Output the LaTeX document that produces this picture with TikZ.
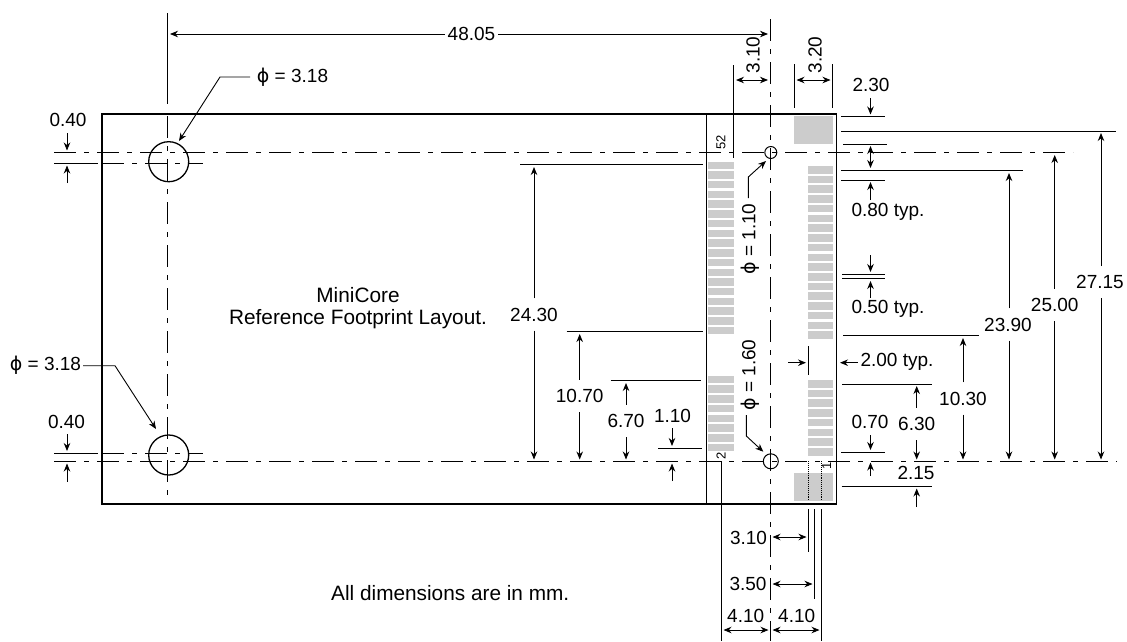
\documentclass[tikz,border=0pt]{standalone}
\usepackage{fontspec}
\setmainfont{Liberation Sans}
\newfontfamily\phifont{DejaVu Sans}
\usetikzlibrary{arrows.meta}
\definecolor{padgray}{HTML}{CCCCCC}
\newcommand{\dimfont}{\fontsize{19}{22}\selectfont}
\newcommand{\titlefont}{\fontsize{20.8}{22}\selectfont}
\newcommand{\pinfont}{\fontsize{13}{15}\selectfont}
\newcommand{\holesym}{{\phifont\symbol{"03D5}}}

\begin{document}
\begin{tikzpicture}[x=1pt,y=-1pt,
	label/.style={font=\dimfont,inner sep=0pt,minimum height=32pt,minimum width=53pt},
	note/.style={font=\dimfont,inner sep=0pt,align=center},
	pin/.style={font=\pinfont,inner sep=0pt},
	pad/.style={fill=padgray},
	ext/.style={line width=0.9pt},
	arr/.style={line width=0.9pt,-{Stealth[length=8pt,width=6.5pt]}},
	dblarr/.style={line width=0.9pt,{Stealth[length=8pt,width=6.5pt]}-{Stealth[length=8pt,width=6.5pt]}},
	centre/.style={line width=0.9pt,dash pattern=on 22pt off 8pt on 5pt off 8pt},
	outline/.style={draw,line width=1.3pt}]
	\useasboundingbox (0,0) rectangle (1127,641);
	\fill[white] (0,0) rectangle (1127,641);

	\foreach \i in {0,...,17} {
		\fill[pad] (708,{161.5+\i*9.73}) rectangle +(25.5,7.5);
		\fill[pad] (808.3,{166+\i*9.73}) rectangle +(25,7.5);
	}
	\foreach \i in {0,...,7} {
		\fill[pad] (708,{375.7+\i*9.73}) rectangle +(25.5,7.5);
		\fill[pad] (808.3,{380+\i*9.73}) rectangle +(25,7.5);
	}
	\fill[pad] (794,116.3) rectangle (833,144);
	\fill[pad] (794,472.7) rectangle (833,500.7);

	\draw[outline] (102,114) rectangle (836.7,504);
	\draw[outline] (706.5,114) -- (706.5,504);
	\draw[outline] (168.7,161.7) circle (20);
	\draw[outline] (168.7,455) circle (20);
	\draw[line width=1pt] (770.8,152.5) circle (6);
	\draw[line width=1pt] (770.8,461.3) circle (7.5);

	\draw[centre] (54,152.5) -- (1073,152.5);
	\draw[centre] (54,461.3) -- (1117,461.3);
	\draw[centre] (102,163) -- (203,163);
	\draw[centre] (102,453) -- (203,453);
	\draw[centre] (167.7,116) -- (167.7,498);
	\draw[centre] (770.3,19) -- (770.3,641);
	\draw[ext] (54,163) -- (98,163);
	\draw[ext] (54,453) -- (98,453);
	\draw[ext] (167.7,13) -- (167.7,104);

	\draw[ext] (733.5,65) -- (733.5,158);
	\draw[ext] (794,64) -- (794,108);
	\draw[ext] (832.5,64) -- (832.5,108);
	\draw[ext] (841,116.5) -- (885,116.5);
	\draw[ext] (841,131) -- (1116,131);
	\draw[ext] (843,144) -- (887,144);
	\draw[ext] (841,170) -- (1023,170);
	\draw[ext] (841,180) -- (885,180);
	\draw[ext] (842,274.3) -- (885,274.3);
	\draw[ext] (842,278.3) -- (885,278.3);
	\draw[ext] (843,335.7) -- (979,335.7);
	\draw[ext] (808.3,346) -- (808.3,375);
	\draw[ext] (842,384) -- (932,384);
	\draw[ext] (841,452.7) -- (885,452.7);
	\draw[ext] (841.7,486.3) -- (931.7,486.3);
	\draw[ext] (520,164.7) -- (703,164.7);
	\draw[ext] (566.7,331.7) -- (703,331.7);
	\draw[ext] (610.7,380.7) -- (701,380.7);
	\draw[ext] (658,448.3) -- (702,448.3);
	\draw[ext] (808.5,509) -- (808.5,552);
	\draw[ext] (814.7,509) -- (814.7,599);
	\draw[ext] (821,509) -- (821,641);
	\draw[ext] (721.7,461.3) -- (721.7,641);
	\draw[ext,densely dotted] (808.5,461.3) -- (808.5,500);
	\draw[ext,densely dotted] (821,461.3) -- (821,500);

	\node[label] (d4805) at (471.5,34) {48.05};
	\node[label,rotate=90] (d310t) at (753,55) {3.10};
	\node[label,rotate=90] (d320t) at (815,55) {3.20};
	\node[label] (d230) at (871,85) {2.30};
	\node[note] (d080) at (888,212) {0.80 typ.};
	\node[note] (d050) at (888,309) {0.50 typ.};
	\node[note] (d200) at (897,362) {2.00 typ.};
	\node[label] (d2715) at (1100,282) {27.15};
	\node[label] (d2500) at (1054.7,305) {25.00};
	\node[label] (d2390) at (1008,324.5) {23.90};
	\node[label] (d1030) at (963,398.5) {10.30};
	\node[label] (d630) at (916.7,424) {6.30};
	\node[label] (d070) at (870,422) {0.70};
	\node[label] (d215) at (916,473) {2.15};
	\node[label] (d2430) at (534,314.5) {24.30};
	\node[label] (d1070) at (579.7,396) {10.70};
	\node[label] (d670) at (626,421) {6.70};
	\node[label] (d110) at (672.5,416) {1.10};
	\node[label] (d040a) at (68,120) {0.40};
	\node[label] (d040b) at (66.5,421.7) {0.40};
	\node[label] (d310b) at (748.5,538) {3.10};
	\node[label] (d350) at (748,584) {3.50};
	\node[label] (d410a) at (745.7,616) {4.10};
	\node[label] (d410b) at (796.7,616) {4.10};
	\node[note] (h318a) at (292.5,77) {\holesym{} = 3.18};
	\node[note] (h318b) at (45.5,365) {\holesym{} = 3.18};
	\node[note,rotate=90] (h110) at (750,239) {\holesym{} = 1.10};
	\node[note,rotate=90] (h160) at (750,375) {\holesym{} = 1.60};
	\node[note,font=\titlefont] (title) at (358,308) {MiniCore\\Reference Footprint Layout.};
	\node[note,font=\titlefont,anchor=west] (units) at (331,593) {All dimensions are in mm.};
	\node[pin,rotate=90] (p52) at (721,142) {52};
	\node[pin,rotate=90] (p2) at (721,455.7) {2};
	\node[pin,rotate=90] (p1) at (826.7,465.7) {1};

	\draw[arr] (d4805.east) -- (768,34);
	\draw[arr] (d4805.west) -- (170,34);
	\draw[dblarr] (736,80) -- (768,80);
	\draw[dblarr] (796.5,80) -- (830.5,80);
	\draw[arr] (870.5,98) -- (870.5,114.5);
	\draw[dblarr] (870.5,146) -- (870.5,168);
	\draw[arr] (870.5,200) -- (870.5,182);
	\draw[arr] (870.5,255) -- (870.5,272);
	\draw[arr] (870.5,298) -- (870.5,281);
	\draw[arr] (788,362.7) -- (806,362.7);
	\draw[arr] (857.7,362.7) -- (840,362.7);
	\draw[arr] (d2715.south -| 1101,0) -- (1101,459.5);
	\draw[arr] (1101,266) -- (1101,133);
	\draw[arr] (d2500.north) -- (1054.7,155);
	\draw[arr] (d2500.south) -- (1054.7,459.5);
	\draw[arr] (d2390.north -| 1009,0) -- (1009,173);
	\draw[arr] (d2390.south -| 1009,0) -- (1009,459.5);
	\draw[arr] (d1030.north) -- (963,338);
	\draw[arr] (d1030.south) -- (963,459.5);
	\draw[arr] (d630.north) -- (916.7,386);
	\draw[arr] (d630.south) -- (916.7,459.5);
	\draw[arr] (870.5,435) -- (870.5,450);
	\draw[arr] (870.5,476) -- (870.5,462.5);
	\draw[arr] (916.7,507) -- (916.7,488.5);
	\draw[arr] (d2430.north) -- (534,167);
	\draw[arr] (d2430.south) -- (534,459.5);
	\draw[arr] (d1070.north) -- (579.7,334);
	\draw[arr] (d1070.south) -- (579.7,459.5);
	\draw[arr] (d670.north) -- (626,383);
	\draw[arr] (d670.south) -- (626,459.5);
	\draw[arr] (672,428) -- (672,446);
	\draw[arr] (672,481) -- (672,463.5);
	\draw[arr] (67,133) -- (67,150.5);
	\draw[arr] (67,183) -- (67,165.5);
	\draw[arr] (67,434) -- (67,451);
	\draw[arr] (67,481.7) -- (67,463.5);
	\draw[dblarr] (772.5,537) -- (806.5,537);
	\draw[dblarr] (772.5,584) -- (812.5,584);
	\draw[dblarr] (723.5,630) -- (768.5,630);
	\draw[dblarr] (772.5,630) -- (819.5,630);
	\draw[arr] (250,77) -- (220,77) -- (179,141);
	\draw[arr] (83,365.7) -- (115,365.7) -- (156,429);
	\draw[arr] (748.3,198) -- (748.3,177) -- (766,161);
	\draw[arr] (746.3,415) -- (746.3,436) -- (763.3,451.7);
\end{tikzpicture}
\end{document}
